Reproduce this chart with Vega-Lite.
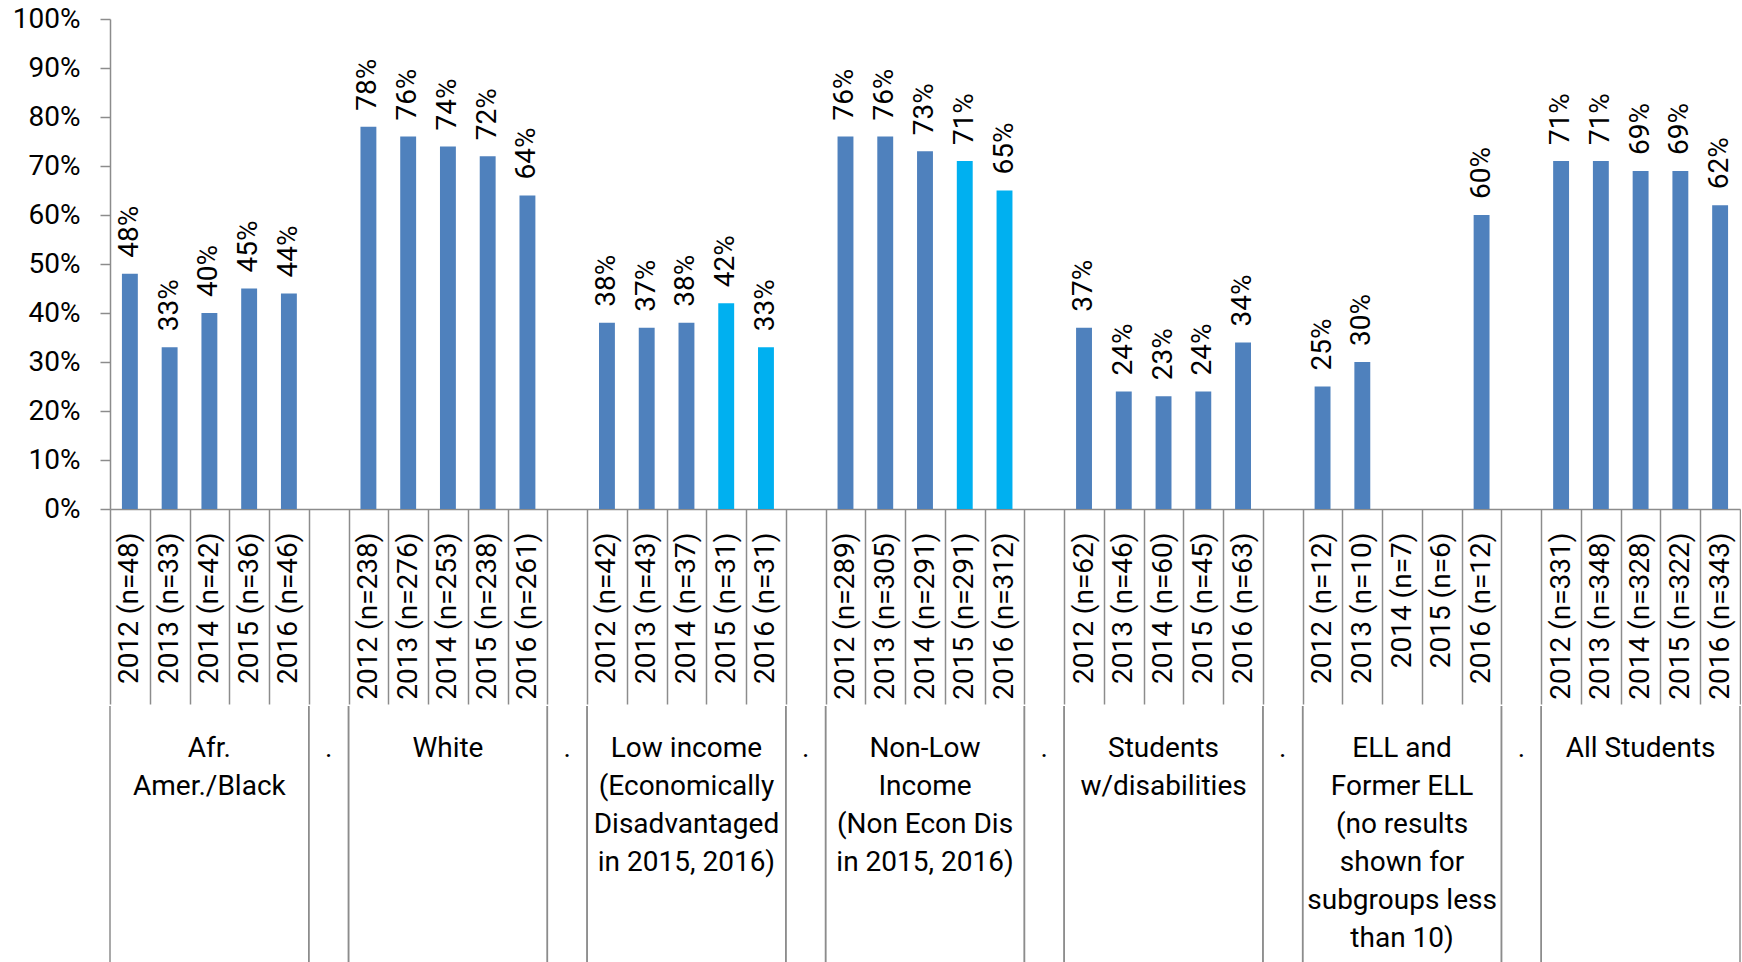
{
  "$schema": "https://vega.github.io/schema/vega-lite/v6.json",
  "padding": {"left": 12, "top": 5, "right": 0, "bottom": 0},
  "spacing": 0,
  "config": {"font": "Roboto", "view": {"stroke": null}},
  "datasets": {
    "bars": [
      {"cat": "2012 (n=48)", "group": "Afr. Amer./Black", "pct": 0.48, "hl": "no"},
      {"cat": "2013 (n=33)", "group": "Afr. Amer./Black", "pct": 0.33, "hl": "no"},
      {"cat": "2014 (n=42)", "group": "Afr. Amer./Black", "pct": 0.40, "hl": "no"},
      {"cat": "2015 (n=36)", "group": "Afr. Amer./Black", "pct": 0.45, "hl": "no"},
      {"cat": "2016 (n=46)", "group": "Afr. Amer./Black", "pct": 0.44, "hl": "no"},
      {"cat": "2012 (n=238)", "group": "White", "pct": 0.78, "hl": "no"},
      {"cat": "2013 (n=276)", "group": "White", "pct": 0.76, "hl": "no"},
      {"cat": "2014 (n=253)", "group": "White", "pct": 0.74, "hl": "no"},
      {"cat": "2015 (n=238)", "group": "White", "pct": 0.72, "hl": "no"},
      {"cat": "2016 (n=261)", "group": "White", "pct": 0.64, "hl": "no"},
      {"cat": "2012 (n=42)", "group": "Low income", "pct": 0.38, "hl": "no"},
      {"cat": "2013 (n=43)", "group": "Low income", "pct": 0.37, "hl": "no"},
      {"cat": "2014 (n=37)", "group": "Low income", "pct": 0.38, "hl": "no"},
      {"cat": "2015 (n=31)", "group": "Low income", "pct": 0.42, "hl": "yes"},
      {"cat": "2016 (n=31)", "group": "Low income", "pct": 0.33, "hl": "yes"},
      {"cat": "2012 (n=289)", "group": "Non-Low Income", "pct": 0.76, "hl": "no"},
      {"cat": "2013 (n=305)", "group": "Non-Low Income", "pct": 0.76, "hl": "no"},
      {"cat": "2014 (n=291)", "group": "Non-Low Income", "pct": 0.73, "hl": "no"},
      {"cat": "2015 (n=291)", "group": "Non-Low Income", "pct": 0.71, "hl": "yes"},
      {"cat": "2016 (n=312)", "group": "Non-Low Income", "pct": 0.65, "hl": "yes"},
      {"cat": "2012 (n=62)", "group": "Students w/disabilities", "pct": 0.37, "hl": "no"},
      {"cat": "2013 (n=46)", "group": "Students w/disabilities", "pct": 0.24, "hl": "no"},
      {"cat": "2014 (n=60)", "group": "Students w/disabilities", "pct": 0.23, "hl": "no"},
      {"cat": "2015 (n=45)", "group": "Students w/disabilities", "pct": 0.24, "hl": "no"},
      {"cat": "2016 (n=63)", "group": "Students w/disabilities", "pct": 0.34, "hl": "no"},
      {"cat": "2012 (n=12)", "group": "ELL and Former ELL", "pct": 0.25, "hl": "no"},
      {"cat": "2013 (n=10)", "group": "ELL and Former ELL", "pct": 0.30, "hl": "no"},
      {"cat": "2014 (n=7)", "group": "ELL and Former ELL", "pct": null, "hl": "no"},
      {"cat": "2015 (n=6)", "group": "ELL and Former ELL", "pct": null, "hl": "no"},
      {"cat": "2016 (n=12)", "group": "ELL and Former ELL", "pct": 0.60, "hl": "no"},
      {"cat": "2012 (n=331)", "group": "All Students", "pct": 0.71, "hl": "no"},
      {"cat": "2013 (n=348)", "group": "All Students", "pct": 0.71, "hl": "no"},
      {"cat": "2014 (n=328)", "group": "All Students", "pct": 0.69, "hl": "no"},
      {"cat": "2015 (n=322)", "group": "All Students", "pct": 0.69, "hl": "no"},
      {"cat": "2016 (n=343)", "group": "All Students", "pct": 0.62, "hl": "no"}
    ],
    "groups": [
      {"label": "Afr.\nAmer./Black", "first": "2012 (n=48)", "mid": "2014 (n=42)", "last": "2016 (n=46)"},
      {"label": ".", "first": "sep1", "mid": "sep1", "last": "sep1"},
      {"label": "White", "first": "2012 (n=238)", "mid": "2014 (n=253)", "last": "2016 (n=261)"},
      {"label": ".", "first": "sep2", "mid": "sep2", "last": "sep2"},
      {"label": "Low income\n(Economically\nDisadvantaged\nin 2015, 2016)", "first": "2012 (n=42)", "mid": "2014 (n=37)", "last": "2016 (n=31)"},
      {"label": ".", "first": "sep3", "mid": "sep3", "last": "sep3"},
      {"label": "Non-Low\nIncome\n(Non Econ Dis\nin 2015, 2016)", "first": "2012 (n=289)", "mid": "2014 (n=291)", "last": "2016 (n=312)"},
      {"label": ".", "first": "sep4", "mid": "sep4", "last": "sep4"},
      {"label": "Students\nw/disabilities", "first": "2012 (n=62)", "mid": "2014 (n=60)", "last": "2016 (n=63)"},
      {"label": ".", "first": "sep5", "mid": "sep5", "last": "sep5"},
      {"label": "ELL and\nFormer ELL\n(no results\nshown for\nsubgroups less\nthan 10)", "first": "2012 (n=12)", "mid": "2014 (n=7)", "last": "2016 (n=12)"},
      {"label": ".", "first": "sep6", "mid": "sep6", "last": "sep6"},
      {"label": "All Students", "first": "2012 (n=331)", "mid": "2014 (n=328)", "last": "2016 (n=343)"}
    ]
  },
  "vconcat": [
    {
      "width": 1630,
      "height": 490,
      "data": {"name": "bars"},
      "encoding": {
        "x": {
          "field": "cat",
          "type": "nominal",
          "scale": {
            "domain": ["2012 (n=48)","2013 (n=33)","2014 (n=42)","2015 (n=36)","2016 (n=46)","sep1","2012 (n=238)","2013 (n=276)","2014 (n=253)","2015 (n=238)","2016 (n=261)","sep2","2012 (n=42)","2013 (n=43)","2014 (n=37)","2015 (n=31)","2016 (n=31)","sep3","2012 (n=289)","2013 (n=305)","2014 (n=291)","2015 (n=291)","2016 (n=312)","sep4","2012 (n=62)","2013 (n=46)","2014 (n=60)","2015 (n=45)","2016 (n=63)","sep5","2012 (n=12)","2013 (n=10)","2014 (n=7)","2015 (n=6)","2016 (n=12)","sep6","2012 (n=331)","2013 (n=348)","2014 (n=328)","2015 (n=322)","2016 (n=343)"],
            "paddingInner": 0,
            "paddingOuter": 0
          },
          "axis": {
            "title": null,
            "labelExpr": "indexof(datum.label, 'sep') == 0 ? '' : datum.label",
            "labelAngle": -90,
            "labelAlign": "right",
            "labelBaseline": "middle",
            "labelFontSize": 28,
            "labelColor": "#000000",
            "labelPadding": -172,
            "labelOverlap": false,
            "tickBand": "extent",
            "tickSize": 195,
            "tickColor": "#8C8C8C",
            "tickWidth": 1.5,
            "domainColor": "#8C8C8C",
            "domainWidth": 1.5
          }
        }
      },
      "layer": [
        {
          "mark": {"type": "bar", "width": {"band": 0.4}},
          "encoding": {
            "y": {
              "field": "pct",
              "type": "quantitative",
              "scale": {"domain": [0, 1], "nice": false},
              "axis": {
                "title": null,
                "format": ".0%",
                "values": [0, 0.1, 0.2, 0.3, 0.4, 0.5, 0.6, 0.7, 0.8, 0.9, 1],
                "grid": false,
                "labelFontSize": 28,
                "labelColor": "#000000",
                "labelPadding": 20,
                "tickSize": 10,
                "tickColor": "#8C8C8C",
                "tickWidth": 1.5,
                "domainColor": "#8C8C8C",
                "domainWidth": 1.5
              }
            },
            "color": {
              "field": "hl",
              "type": "nominal",
              "scale": {"domain": ["no", "yes"], "range": ["#4F81BD", "#00B0F0"]},
              "legend": null
            }
          }
        },
        {
          "mark": {"type": "text", "angle": -90, "align": "left", "baseline": "middle", "dx": 16, "fontSize": 28, "color": "#000000"},
          "encoding": {
            "y": {"field": "pct", "type": "quantitative"},
            "text": {"field": "pct", "type": "quantitative", "format": ".0%"}
          }
        }
      ]
    },
    {
      "width": 1630,
      "height": 258,
      "data": {"name": "groups"},
      "layer": [
        {
          "mark": {"type": "rule", "color": "#8C8C8C", "strokeWidth": 1.5},
          "encoding": {
            "x": {
              "field": "first",
              "type": "nominal",
              "bandPosition": 0,
              "scale": {
                "domain": ["2012 (n=48)","2013 (n=33)","2014 (n=42)","2015 (n=36)","2016 (n=46)","sep1","2012 (n=238)","2013 (n=276)","2014 (n=253)","2015 (n=238)","2016 (n=261)","sep2","2012 (n=42)","2013 (n=43)","2014 (n=37)","2015 (n=31)","2016 (n=31)","sep3","2012 (n=289)","2013 (n=305)","2014 (n=291)","2015 (n=291)","2016 (n=312)","sep4","2012 (n=62)","2013 (n=46)","2014 (n=60)","2015 (n=45)","2016 (n=63)","sep5","2012 (n=12)","2013 (n=10)","2014 (n=7)","2015 (n=6)","2016 (n=12)","sep6","2012 (n=331)","2013 (n=348)","2014 (n=328)","2015 (n=322)","2016 (n=343)"],
                "paddingInner": 0,
                "paddingOuter": 0
              },
              "axis": null
            }
          }
        },
        {
          "mark": {"type": "rule", "color": "#8C8C8C", "strokeWidth": 1.5},
          "encoding": {
            "x": {"field": "last", "type": "nominal", "bandPosition": 1, "axis": null}
          }
        },
        {
          "mark": {"type": "text", "baseline": "top", "align": "center", "fontSize": 28, "lineBreak": "\n", "lineHeight": 38, "dy": -100, "color": "#000000"},
          "encoding": {
            "x": {"field": "mid", "type": "nominal", "axis": null},
            "text": {"field": "label", "type": "nominal"}
          }
        }
      ]
    }
  ]
}
